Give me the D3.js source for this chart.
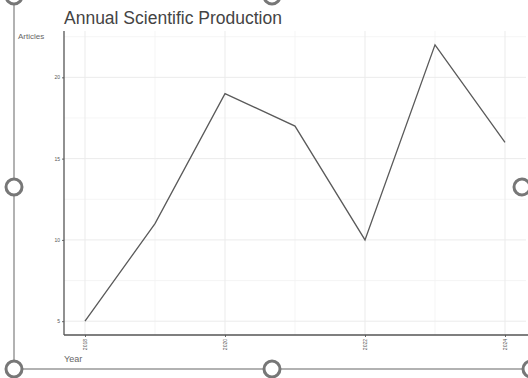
<!DOCTYPE html>
<html>
<head>
<meta charset="utf-8">
<script src="https://cdn.jsdelivr.net/npm/d3@7"></script>
<style>
  body { margin: 0; background: #fff; }
  svg { display: block; font-family: "Liberation Sans", Arial, sans-serif; }
</style>
</head>
<body>
<div id="chart"></div>
<script>
// chart data
var years = [2018, 2019, 2020, 2021, 2022, 2023, 2024];
var articles = [5, 11, 19, 17, 10, 22, 16];
var xTicks = [2018, 2020, 2022, 2024];
var yTicks = [5, 10, 15, 20];

var width = 528, height = 378;
var pLeft = 64, pRight = 526, pTop = 31, pBottom = 335;

var svg = d3.select('#chart').append('svg')
    .attr('width', width)
    .attr('height', height);

var x = d3.scaleLinear().domain([2017.7, 2024.3]).range([pLeft, pRight]);
var y = d3.scaleLinear().domain([4.15, 22.85]).range([pBottom, pTop]);

var grid = svg.append('g');
// minor grid
grid.selectAll('.hminor')
    .data([7.5, 12.5, 17.5, 22.5])
    .enter().append('line')
    .attr('x1', pLeft).attr('x2', pRight)
    .attr('y1', d => y(d)).attr('y2', d => y(d))
    .attr('stroke', '#f3f3f3').attr('stroke-width', 0.8);
grid.selectAll('.vminor')
    .data([2019, 2021, 2023])
    .enter().append('line')
    .attr('y1', pTop).attr('y2', pBottom)
    .attr('x1', d => x(d)).attr('x2', d => x(d))
    .attr('stroke', '#f3f3f3').attr('stroke-width', 0.8);
// major grid
grid.selectAll('.hmajor')
    .data(yTicks)
    .enter().append('line')
    .attr('x1', pLeft).attr('x2', pRight)
    .attr('y1', d => y(d)).attr('y2', d => y(d))
    .attr('stroke', '#ebebeb').attr('stroke-width', 1);
grid.selectAll('.vmajor')
    .data(xTicks)
    .enter().append('line')
    .attr('y1', pTop).attr('y2', pBottom)
    .attr('x1', d => x(d)).attr('x2', d => x(d))
    .attr('stroke', '#ebebeb').attr('stroke-width', 1);

// axes
var yAxis = svg.append('g')
    .attr('transform', 'translate(' + pLeft + ',0)')
    .call(d3.axisLeft(y).tickValues(yTicks).tickSize(2).tickPadding(2));
yAxis.select('.domain').remove();
yAxis.selectAll('line').attr('stroke', '#666');
yAxis.selectAll('text').attr('font-size', 5).attr('fill', '#555');

var xAxis = svg.append('g')
    .attr('transform', 'translate(0,' + pBottom + ')')
    .call(d3.axisBottom(x).tickValues(xTicks).tickFormat(d3.format('d')).tickSize(2).tickPadding(2));
xAxis.select('.domain').remove();
xAxis.selectAll('line').attr('stroke', '#666');
xAxis.selectAll('text')
    .attr('font-size', 5).attr('fill', '#555')
    .attr('transform', 'rotate(-90)')
    .attr('dy', '0.35em')
    .attr('x', -4).attr('y', 0)
    .style('text-anchor', 'end');

svg.append('line')
    .attr('x1', pLeft).attr('x2', pLeft).attr('y1', pTop).attr('y2', pBottom)
    .attr('stroke', '#555').attr('stroke-width', 1.3);
svg.append('line')
    .attr('x1', pLeft).attr('x2', width).attr('y1', pBottom).attr('y2', pBottom)
    .attr('stroke', '#555').attr('stroke-width', 1.3);

// line
var line = d3.line()
    .x((d, i) => x(years[i]))
    .y(d => y(d));
svg.append('path')
    .datum(articles)
    .attr('d', line)
    .attr('fill', 'none')
    .attr('stroke', '#5a5a5a')
    .attr('stroke-width', 1.3);

// labels
svg.append('text')
    .attr('x', 64).attr('y', 24)
    .attr('font-size', 17.5).attr('fill', '#444')
    .text('Annual Scientific Production');
svg.append('text')
    .attr('x', 18).attr('y', 39)
    .attr('font-size', 8).attr('fill', '#666')
    .text('Articles');
svg.append('text')
    .attr('x', 64).attr('y', 362)
    .attr('font-size', 9).attr('fill', '#666')
    .text('Year');

// selection frame handles
var frame = svg.append('g');
frame.append('line')
    .attr('x1', 14).attr('x2', 14).attr('y1', 0).attr('y2', 369)
    .attr('stroke', '#999').attr('stroke-width', 1.5);
frame.append('line')
    .attr('x1', 14).attr('x2', width).attr('y1', 369).attr('y2', 369)
    .attr('stroke', '#999').attr('stroke-width', 1.5);
var handles = [[14, -4], [272, -4], [14, 187], [522, 187], [14, 369], [272, 369], [531, 369]];
frame.selectAll('circle')
    .data(handles)
    .enter().append('circle')
    .attr('cx', d => d[0]).attr('cy', d => d[1])
    .attr('r', 8)
    .attr('fill', '#fff')
    .attr('stroke', '#777')
    .attr('stroke-width', 3);
</script>
</body>
</html>
